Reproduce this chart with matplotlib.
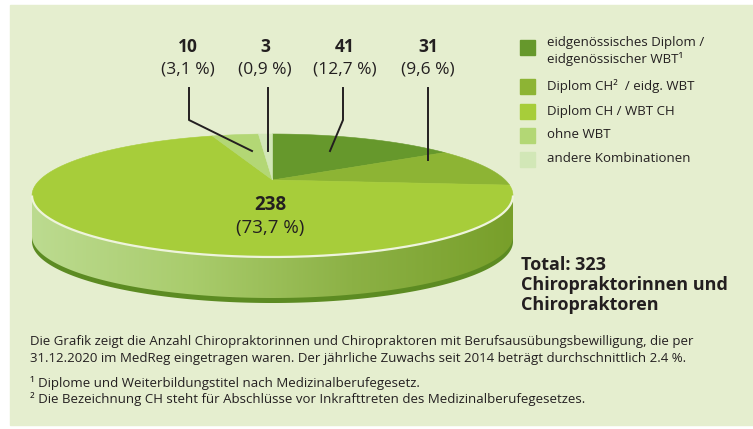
import numpy as np
import matplotlib.pyplot as plt
from matplotlib.patches import Polygon, Rectangle
from matplotlib.colors import LinearSegmentedColormap

# data (clockwise from 12 o'clock)
categories = ['eidgenössisches Diplom /\neidgenössischer WBT¹',
              'Diplom CH²  / eidg. WBT',
              'Diplom CH / WBT CH',
              'ohne WBT',
              'andere Kombinationen']
counts = [41, 31, 238, 10, 3]
shares = ['12,7', '9,6', '73,7', '3,1', '0,9']
colors = ['#66982c', '#8db434', '#a7cd3a', '#b3d775', '#d2e7b7']
total = 323

footer = ('Die Grafik zeigt die Anzahl Chiropraktorinnen und Chiropraktoren mit Berufsausübungsbewilligung, die per\n'
          '31.12.2020 im MedReg eingetragen waren. Der jährliche Zuwachs seit 2014 beträgt durchschnittlich 2.4 %.')
notes = ('¹ Diplome und Weiterbildungstitel nach Medizinalberufegesetz.\n'
         '² Die Bezeichnung CH steht für Abschlüsse vor Inkrafttreten des Medizinalberufegesetzes.')

BG = '#e5eecf'
FONT = ['Open Sans', 'DejaVu Sans']
TXT = '#231f20'

fig = plt.figure(figsize=(7.53, 4.29), dpi=100)
ax = fig.add_axes([0, 0, 1, 1])

# panel
ax.add_patch(Rectangle((10, 5), 743, 420, color=BG, zorder=0))

# pie geometry (pixels)
cx, cy, rx, ry = 272.5, 195.5, 240.5, 61.5
apex_y = 180
depth = 46


def ell(t):
    return cx + rx * np.cos(t), cy - ry * np.sin(t)


# side of the disc
t_front = np.linspace(np.pi, 2 * np.pi, 200)
xf, yf = ell(t_front)
side_dark = np.column_stack([np.r_[xf, xf[::-1]], np.r_[yf, yf[::-1] + depth]])
ax.add_patch(Polygon(side_dark, closed=True, color='#5c8b22', zorder=1, lw=0))

side = Polygon(np.column_stack([np.r_[xf, xf[::-1]], np.r_[yf, yf[::-1] + depth - 5]]),
               closed=True, facecolor='none', edgecolor='none', zorder=2)
ax.add_patch(side)
grad = LinearSegmentedColormap.from_list('side', ['#bcdb90', '#a9cc6c', '#8cb145', '#789f2a'])
im = ax.imshow(np.linspace(0, 1, 256)[None, :], cmap=grad, aspect='auto',
               extent=(cx - rx, cx + rx, cy + ry + depth + 2, cy - 2), zorder=2)
im.set_clip_path(side)

# top face wedges
bounds = 90 - np.r_[0, np.cumsum(counts)] * 360 / total
for i, c in enumerate(colors):
    t = np.radians(np.linspace(bounds[i], bounds[i + 1], 120))
    x, y = ell(t)
    pts = np.column_stack([np.r_[cx, x], np.r_[apex_y, y]])
    ax.add_patch(Polygon(pts, closed=True, facecolor=c, edgecolor=c, lw=0.4, zorder=3))

# light rim at the front edge
ax.plot(xf, yf, color='#eef4dc', lw=1.6, zorder=4, solid_capstyle='butt')

# top labels with leader lines
top_labels = [(3, 188), (4, 265), (0, 345), (1, 428)]
for idx, x in top_labels:
    ax.text(x, 47, str(counts[idx]), ha='center', va='center', fontsize=12.5,
            fontweight='bold', family=FONT, color=TXT)
    ax.text(x, 70, f'({shares[idx]} %)', ha='center', va='center', fontsize=12.5,
            family=FONT, color=TXT)

leaders = [([189, 189, 252], [88, 120, 151]),
           ([268, 268], [88, 151]),
           ([343, 343, 330], [88, 120, 151]),
           ([428, 428], [88, 160])]
for lx, ly in leaders:
    ax.plot(lx, ly, color=TXT, lw=1.4, zorder=5)

# centre label
ax.text(cx - 2, 205, str(counts[2]), ha='center', va='center', fontsize=13.5,
        fontweight='bold', family=FONT, color=TXT, zorder=6)
ax.text(cx - 2, 228, f'({shares[2]} %)', ha='center', va='center', fontsize=13.5,
        family=FONT, color=TXT, zorder=6)

# legend
leg_y = [47, 86, 111, 135, 159]
for lab, c, y in zip(categories, colors, leg_y):
    ax.add_patch(Rectangle((520, y - 7.5), 15, 15, color=c, zorder=3))
    ty = y + 4 if '\n' in lab else y
    ax.text(547, ty, lab, ha='left', va='center', fontsize=9.5, family=FONT,
            color=TXT, linespacing=1.35)

# total
ax.text(521, 285, 'Total: 323\nChiropraktorinnen und\nChiropraktoren', ha='left',
        va='center', fontsize=13, fontweight='bold', family=FONT, color=TXT,
        linespacing=1.15)

# footer
ax.text(30, 350, footer, ha='left', va='center', fontsize=9.5, family=FONT,
        color=TXT, linespacing=1.4)
ax.text(30, 391, notes, ha='left', va='center', fontsize=9.5, family=FONT,
        color=TXT, linespacing=1.25)

ax.set_xlim(0, 753)
ax.set_ylim(429, 0)
ax.axis('off')

fig.savefig('out.png', dpi=100, facecolor='white')
